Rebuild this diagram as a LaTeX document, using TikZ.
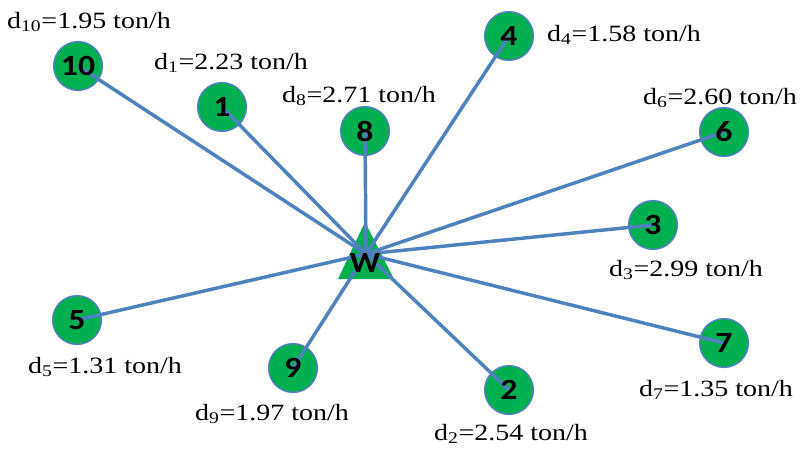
\documentclass[tikz,border=0pt]{standalone}
\usepackage{fontspec}
\newfontfamily\demandfont{Liberation Serif}[FakeStretch=1.2]
\newfontfamily\sitefont{Carlito}[FakeStretch=1.15]
\usetikzlibrary{calc}
\definecolor{sitegreen}{HTML}{00B050}
\definecolor{linkblue}{HTML}{4F81BD}
\tikzset{
 link/.style={draw=linkblue,line width=2.6pt},
 site/.style={circle,draw=linkblue,line width=1.1pt,fill=sitegreen,minimum size=36.5pt,inner sep=0},
 sitenum/.style={font=\sitefont\bfseries\fontsize{22}{22}\selectfont,inner sep=0},
 demand/.style={font=\demandfont\fontsize{17.5}{20}\selectfont,anchor=base,inner sep=0},
 warehouse/.style={fill=sitegreen}
}

\begin{document}
\begin{tikzpicture}[x=0.75pt,y=-0.75pt]
\path[use as bounding box] (0,0) rectangle (800,451);
% warehouse
\fill[warehouse] (365,222) -- (394,279) -- (338,279) -- cycle;
\coordinate (W) at (366,254);
% sites
\node[site] (s1) at (222,107) {};
\node[site] (s2) at (509,390) {};
\node[site] (s3) at (653,225) {};
\node[site] (s4) at (509,36) {};
\node[site] (s5) at (77,320) {};
\node[site] (s6) at (724,132) {};
\node[site] (s7) at (724,343) {};
\node[site] (s8) at (365,131) {};
\node[site] (s9) at (293,368) {};
\node[site] (s10) at (78,66) {};
\foreach \s in {1,...,10}
  \draw[link] (s\s.center) -- (W);
\foreach \s in {1,...,10}
  \node[sitenum] (t\s) at (s\s) {\s};
\node[sitenum,font=\sitefont\bfseries\fontsize{22}{22}\selectfont] (w) at (365,263) {W};
% demands
\node[demand] (d1) at (231,69) {d\textsubscript{1}=2.23 ton/h};
\node[demand] (d2) at (511,440) {d\textsubscript{2}=2.54 ton/h};
\node[demand] (d3) at (686,276) {d\textsubscript{3}=2.99 ton/h};
\node[demand] (d4) at (624,41) {d\textsubscript{4}=1.58 ton/h};
\node[demand] (d5) at (105,373) {d\textsubscript{5}=1.31 ton/h};
\node[demand] (d6) at (720,104) {d\textsubscript{6}=2.60 ton/h};
\node[demand] (d7) at (716,396) {d\textsubscript{7}=1.35 ton/h};
\node[demand] (d8) at (359,102) {d\textsubscript{8}=2.71 ton/h};
\node[demand] (d9) at (272,420) {d\textsubscript{9}=1.97 ton/h};
\node[demand] (d10) at (89,28) {d\textsubscript{10}=1.95 ton/h};
\end{tikzpicture}
\end{document}
